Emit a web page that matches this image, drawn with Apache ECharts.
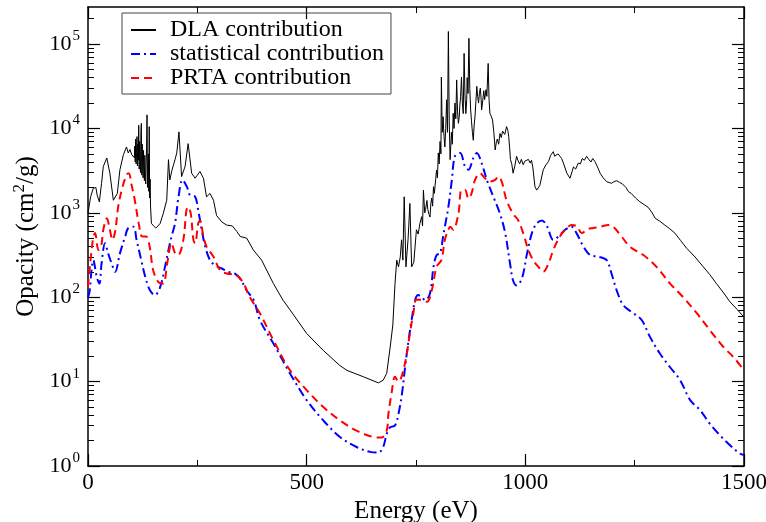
<!DOCTYPE html>
<html>
<head>
<meta charset="utf-8">
<script src="https://cdn.jsdelivr.net/npm/echarts@6/dist/echarts.min.js"></script>
<style>html,body{margin:0;padding:0;background:#fff}#c{width:766px;height:522px}</style>
</head>
<body>
<div id="c"></div>
<script>
const seriesNames = ['DLA contribution', 'statistical contribution', 'PRTA contribution'];
const xTicks = [0, 500, 1000, 1500];
const yMajor = [1, 10, 100, 1000, 10000, 100000];
const yMinor = [2,3,4,5,6,7,8,9,20,30,40,50,60,70,80,90,200,300,400,500,600,700,800,900,
  2000,3000,4000,5000,6000,7000,8000,9000,20000,30000,40000,50000,60000,70000,80000,90000,200000];

const dla = [[0,990],[6,1550],[12,1950],[18,2000],[21,1620],[26,1350],[31,2240],[35,3550],[43,4470],[46,4270],[50,2950],[58,1410],[62,1350],[67,1700],[73,3240],[81,4900],[88,6030],[92,5130],[96,5620],[100,4900],[104,5130],
[106,4500],[107,6200],[108,4000],[109,7500],[110,3800],[111,5200],[112,8000],[113,3600],[114,6500],[115,4200],[116,10900],[117,3300],[118,7000],[119,4000],[120,3000],[121,9000],[122,11500],[123,2800],[124,6500],[125,3500],[126,2600],[127,5500],[128,3000],[129,2400],[130,4800],[131,2600],[132,2200],[133,4000],[134,6000],[135,14500],[136,2000],[137,3600],[138,5000],[139,1800],[140,10500],[141,1500],[142,2500],[143,1200],[145,750],
[150,700],[155,660],[160,700],[165,750],[172,980],[180,1410],[184,4270],[187,2450],[192,3200],[199,4270],[203,5130],[208,9120],[214,2690],[222,3550],[229,6610],[237,2950],[245,2570],[250,2800],[256,3090],[264,2570],[271,1550],[279,1700],[287,1410],[294,930],[306,780],[317,716],[330,700],[340,603],[348,525],[363,501],[378,363],[397,275],[424,145],[446,92],[462,70.8],[500,37.2],[538,23.4],[576,15.5],[592,13.6],[630,11.4],[664,9.66],[675,10.4],[683,12.5],[691,25.7],[697,46.8],[702,145],[706,275],[710,229],[714,300],[717,479],[720,275],[723,1550],[727,229],[732,500],[736,1290],[740,229],[745,260],[751,631],[755,560],[759,750],[763,900],[765,700],[767,1860],[770,1000],[772,1100],[775,1400],[777,1100],[780,950],[782,891],[784,1300],[786,1500],[788,1200],[790,2040],[792,1700],[795,2500],[797,3200],[799,2600],[801,5130],[803,3800],[805,7000],[807,5000],[808,40700],[810,9000],[812,13800],[814,8000],[816,6030],[818,10000],[820,21900],[822,9000],[824,141000],[826,12000],[828,4270],[830,7000],[831,9000],[833,6500],[835,15100],[837,10000],[839,20000],[841,13000],[843,37600],[845,16000],[847,11500],[849,14000],[850,18000],[852,24000],[854,40700],[856,20000],[858,15000],[860,77600],[862,25000],[864,15000],[866,22000],[867,40000],[869,26000],[871,117000],[873,30000],[875,16600],[877,12000],[879,9000],[881,7240],[883,11000],[885,14000],[887,21000],[889,31600],[891,24000],[893,20000],[895,26000],[897,30000],[899,22000],[900,16600],[902,20000],[905,28000],[907,22000],[910,28800],[912,24000],[915,58900],[917,22000],[919,15100],[922,14000],[925,12600],[928,9000],[931,5560],[934,7000],[936,7500],[939,6500],[942,8710],[945,7800],[948,9300],[950,9500],[953,8500],[957,10500],[960,9500],[962,8000],[964,6000],[966,4270],[969,3800],[972,2950],[976,3600],[980,4680],[983,4200],[987,3800],[991,4300],[995,3720],[999,4100],[1003,3900],[1007,4300],[1011,3890],[1014,4200],[1017,3500],[1022,2040],[1026,1860],[1033,2100],[1041,3240],[1047,3700],[1053,4070],[1058,4800],[1064,5310],[1067,4700],[1071,4680],[1075,5000],[1079,4680],[1083,4400],[1087,3890],[1095,2950],[1102,2570],[1107,3100],[1110,3500],[1115,3300],[1121,3890],[1126,3800],[1130,4400],[1135,4200],[1140,4680],[1145,4300],[1150,4000],[1154,4400],[1159,4070],[1165,3500],[1171,2950],[1178,2600],[1186,2340],[1197,2240],[1203,2350],[1209,2400],[1215,2300],[1222,2200],[1230,2000],[1236,1780],[1242,1700],[1252,1500],[1262,1350],[1272,1250],[1281,1160],[1290,1000],[1297,861],[1307,800],[1319,716],[1330,650],[1342,575],[1355,470],[1369,380],[1388,300],[1407,229],[1422,185],[1437,145],[1452,115],[1468,88],[1484,72],[1500,58]];

const statistical = [[0,100],[4,120],[8,209],[12,275],[20,174],[26,145],[31,251],[39,437],[46,331],[54,251],[62,200],[73,331],[85,525],[92,661],[104,684],[111,479],[120,302],[131,174],[142,120],[153,106],[165,132],[176,229],[184,363],[191,525],[199,750],[207,1549],[216,2455],[226,2042],[233,1622],[245,1549],[252,1072],[260,631],[268,398],[279,275],[290,240],[306,219],[321,200],[336,191],[348,166],[363,120],[379,92.3],[393,53.7],[424,28.2],[462,12.5],[500,6.03],[538,3.47],[576,2.21],[614,1.68],[645,1.47],[664,1.44],[675,1.68],[683,2.40],[691,2.88],[702,3.02],[710,4.17],[718,7.24],[725,14.8],[733,30.9],[740,53.7],[748,92.3],[755,106],[763,100],[771,92.3],[782,111],[790,229],[797,316],[805,331],[812,525],[816,684],[824,1175],[832,2455],[839,4677],[851,5129],[862,3548],[870,3236],[881,4467],[889,5129],[900,3890],[912,2455],[927,1549],[942,977],[954,575],[965,251],[972,158],[980,138],[992,166],[1004,331],[1015,575],[1026,750],[1038,813],[1050,684],[1064,479],[1076,525],[1091,631],[1106,684],[1117,575],[1133,398],[1148,316],[1167,302],[1186,275],[1197,191],[1209,120],[1224,80.5],[1247,64.6],[1266,53.7],[1285,33.9],[1308,21.4],[1331,14.8],[1354,10.4],[1377,6.03],[1400,4.57],[1422,3.16],[1445,2.31],[1468,1.76],[1491,1.40],[1500,1.35]];

const prta = [[0,132],[11,479],[16,575],[24,363],[30,400],[35,631],[43,861],[50,631],[56,479],[62,600],[69,1175],[77,1862],[88,2818],[93,2951],[100,2100],[107,1413],[116,750],[124,525],[133,525],[141,398],[149,209],[161,151],[172,145],[181,251],[191,437],[199,331],[206,316],[218,479],[225,1072],[229,1175],[235,977],[241,479],[245,437],[252,750],[256,813],[264,525],[271,398],[287,302],[302,209],[317,191],[340,182],[356,145],[370,100],[393,64.6],[424,30.9],[462,13.6],[500,7.94],[538,5.0],[576,3.47],[614,2.63],[652,2.21],[671,2.17],[683,2.63],[687,4.17],[694,7.24],[702,11.4],[710,10],[718,11.9],[729,21.4],[736,37.2],[744,64.6],[751,93.3],[763,93.3],[775,88.1],[786,120],[797,229],[808,275],[816,479],[824,631],[828,684],[835,631],[847,977],[854,1862],[862,1862],[870,1479],[877,1700],[885,2455],[896,2951],[908,2570],[919,2344],[931,2455],[938,2692],[946,2344],[957,1413],[972,977],[984,813],[995,575],[1007,363],[1018,275],[1030,229],[1041,200],[1053,251],[1064,363],[1079,525],[1095,661],[1106,716],[1118,690],[1129,575],[1142,640],[1155,661],[1171,684],[1190,716],[1201,684],[1217,550],[1239,398],[1270,316],[1300,229],[1331,145],[1361,100],[1392,64.6],[1422,40.7],[1453,25.7],[1476,19.5],[1500,13.6]];

const FONT = '"Liberation Serif", "DejaVu Serif", serif';
const chart = echarts.init(document.getElementById('c'), null, {renderer: 'canvas'});
const supY = {b: {fontSize: 22, fontFamily: FONT, color: '#000'},
              s: {fontSize: 15, fontFamily: FONT, color: '#000', padding: [0, 0, 16, 1]}};
const supT = {s: {fontSize: 17, fontFamily: FONT, color: '#000', padding: [0, 0, 14, 0]}};
const yRange = {type: 'log', logBase: 10, min: 1, max: 275000, gridIndex: 0};
const axisLine = {show: true, lineStyle: {color: '#000', width: 1.5}};

chart.setOption({
  animation: false,
  backgroundColor: '#fff',
  grid: {left: 88, right: 22, top: 7, bottom: 56, containLabel: false, outerBoundsMode: 'none'},
  legend: {
    data: seriesNames, orient: 'vertical', left: 122, top: 13,
    padding: [5, 7, 4, 8], itemWidth: 25, itemHeight: 14, itemGap: 0,
    borderColor: '#444', borderWidth: 1,
    itemStyle: {opacity: 0},
    textStyle: {fontFamily: FONT, fontSize: 24, lineHeight: 23.5, color: '#000', padding: [0, 0, 0, 9]}
  },
  xAxis: [
    {type: 'value', min: 0, max: 1500, interval: 500, position: 'bottom',
     name: 'Energy (eV)', nameLocation: 'middle', nameGap: 25,
     nameTextStyle: {fontFamily: FONT, fontSize: 25, color: '#000'},
     axisLine: axisLine, splitLine: {show: false},
     axisTick: {inside: true, length: 12, lineStyle: {color: '#000', width: 1.2}},
     minorTick: {show: true, splitNumber: 2, length: 6, lineStyle: {color: '#000', width: 1}},
     axisLabel: {fontFamily: FONT, fontSize: 23, color: '#000', margin: 5,
                 customValues: xTicks, formatter: v => String(v)}},
    {type: 'value', min: 0, max: 1500, interval: 500, position: 'top',
     axisLine: axisLine, splitLine: {show: false},
     axisTick: {inside: true, length: 12, lineStyle: {color: '#000', width: 1.2}},
     minorTick: {show: true, splitNumber: 2, length: 6, lineStyle: {color: '#000', width: 1}},
     axisLabel: {show: false}}
  ],
  yAxis: [
    Object.assign({}, yRange, {position: 'left',
     name: 'Opacity (cm{s|2}/g)', nameLocation: 'middle', nameGap: 37,
     nameTextStyle: {fontFamily: FONT, fontSize: 25, color: '#000', rich: supT},
     axisLine: axisLine, splitLine: {show: false}, minorTick: {show: false},
     axisTick: {inside: true, length: 12, customValues: yMajor, lineStyle: {color: '#000', width: 1.2}},
     axisLabel: {customValues: yMajor, margin: 8, rich: supY,
       formatter: v => '{b|10}{s|' + Math.round(Math.log10(v)) + '}'}}),
    Object.assign({}, yRange, {position: 'left',
     axisLine: {show: false}, splitLine: {show: false},
     axisTick: {inside: true, length: 6, customValues: yMinor, lineStyle: {color: '#000', width: 1}},
     axisLabel: {show: false}}),
    Object.assign({}, yRange, {position: 'right',
     axisLine: axisLine, splitLine: {show: false},
     axisTick: {inside: true, length: 12, customValues: yMajor, lineStyle: {color: '#000', width: 1.2}},
     axisLabel: {show: false}}),
    Object.assign({}, yRange, {position: 'right',
     axisLine: {show: false}, splitLine: {show: false},
     axisTick: {inside: true, length: 6, customValues: yMinor, lineStyle: {color: '#000', width: 1}},
     axisLabel: {show: false}})
  ],
  series: [
    {name: seriesNames[0], type: 'line', data: dla, showSymbol: false, symbol: 'none',
     lineStyle: {color: '#000', width: 1}, itemStyle: {color: '#000'}},
    {name: seriesNames[1], type: 'line', data: statistical, showSymbol: false, symbol: 'none', smooth: 0.35,
     lineStyle: {color: '#0000ff', width: 2, type: [9, 4, 2, 4]}, itemStyle: {color: '#0000ff'}},
    {name: seriesNames[2], type: 'line', data: prta, showSymbol: false, symbol: 'none', smooth: 0.35,
     lineStyle: {color: '#ff0000', width: 2, type: [8, 5]}, itemStyle: {color: '#ff0000'}}
  ]
});
</script>
</body>
</html>
